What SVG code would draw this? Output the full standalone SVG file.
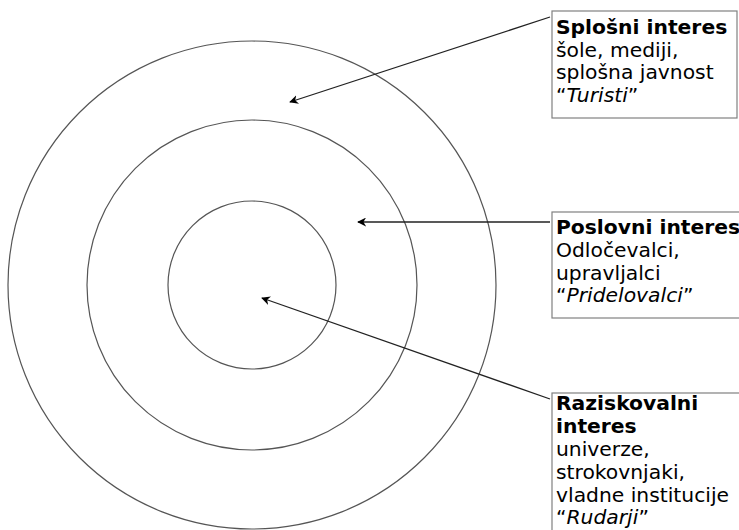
<svg xmlns="http://www.w3.org/2000/svg" width="739" height="530" viewBox="0 0 739 530">
<style>
.ring{fill:none;stroke:#555;stroke-width:1.2}
.box{fill:#fff;stroke:#808080;stroke-width:1.2}
.t{font-family:"DejaVu Sans",Verdana,sans-serif;font-size:20.3px;fill:#000}
.b{font-weight:bold}
.i{font-style:italic}
.conn{stroke:#222;stroke-width:1.3;fill:none;marker-end:url(#ah)}
</style>
<defs>
<marker id="ah" viewBox="0 0 10 10" refX="9" refY="5" markerWidth="9" markerHeight="9" markerUnits="userSpaceOnUse" orient="auto">
<path d="M0,0 L10,5 L0,10 L3,5 Z" fill="#000"/>
</marker>
</defs>
<rect width="739" height="530" fill="#fff"/>
<g id="rings">
<circle id="outer" class="ring" cx="252" cy="285" r="244"/>
<circle id="middle" class="ring" cx="252" cy="285" r="165"/>
<circle id="inner" class="ring" cx="252" cy="285" r="84"/>
</g>
<g id="connectors">
<line class="conn" x1="550" y1="17" x2="290" y2="102"/>
<line class="conn" x1="550" y1="222" x2="358" y2="222"/>
<line class="conn" x1="550" y1="399" x2="262" y2="298"/>
</g>
<g id="box1">
<rect class="box" x="552" y="11" width="185" height="107"/>
<text class="t b" x="556" y="34">Splošni interes</text>
<text class="t" x="556" y="57">šole, mediji,</text>
<text class="t" x="556" y="79">splošna javnost</text>
<text class="t" x="556" y="102">“<tspan class="i">Turisti</tspan>”</text>
</g>
<g id="box2">
<rect class="box" x="552" y="212" width="195" height="106"/>
<text class="t b" x="556" y="234">Poslovni interes</text>
<text class="t" x="556" y="257">Odločevalci,</text>
<text class="t" x="556" y="280">upravljalci</text>
<text class="t" x="556" y="302">“<tspan class="i">Pridelovalci</tspan>”</text>
</g>
<g id="box3">
<rect class="box" x="552" y="393" width="195" height="150"/>
<text class="t b" x="556" y="410">Raziskovalni</text>
<text class="t b" x="556" y="433">interes</text>
<text class="t" x="556" y="456">univerze,</text>
<text class="t" x="556" y="479">strokovnjaki,</text>
<text class="t" x="556" y="502">vladne institucije</text>
<text class="t" x="556" y="524">“<tspan class="i">Rudarji</tspan>”</text>
</g>
</svg>
